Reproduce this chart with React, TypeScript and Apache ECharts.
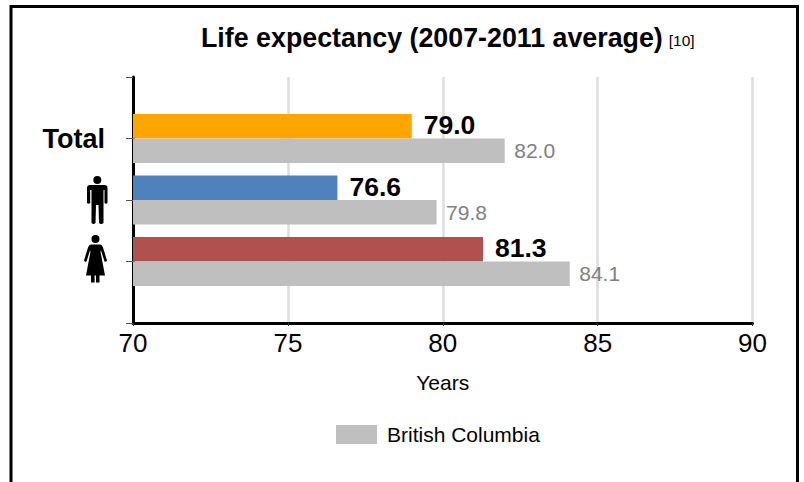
import React, { useEffect, useRef } from 'react'
import * as echarts from 'echarts'

const categories = ['', 'Total', 'Male', 'Female', '']
const regionValues = [null, 79.0, 76.6, 81.3, null]
const bcValues = [null, 82.0, 79.8, 84.1, null]
const regionColors = [null, '#FFA500', '#4F81BD', '#B1514F', null]
const xTicks = [70, 75, 80, 85, 90]

const FONT = '"Liberation Sans", Arial, sans-serif'

echarts.graphic.registerShape('manIcon', echarts.graphic.extendPath(
  'M6.3 4A4 4 0 1 1 14.3 4A4 4 0 1 1 6.3 4Z M3 9L17.5 9Q20.5 9 20.5 12L20.5 27Q19 28.5 17.5 27L17.5 14L16.5 14L16.5 47Q14 49 12 47L11.5 29L9 29L8.5 47Q6.5 49 4.5 47L4.5 14L3.2 14L3.2 27Q1.5 28.5 0 27L0 12Q0 9 3 9Z',
  {}
))
echarts.graphic.registerShape('womanIcon', echarts.graphic.extendPath(
  'M7.5 4.5A4 4 0 1 1 15.5 4.5A4 4 0 1 1 7.5 4.5Z M7 10L16 10Q18 10 19 13L23 26Q22 28 20.5 27L17 16L16.5 17L21 41L15.5 41L15.5 48L12 48L12 41L10.6 41L10.6 48L7 48L7 41L2 41L6.5 17L6 16L2.5 27Q1 28 0 26L4 13Q5 10 7 10Z',
  {}
))

const App = () => {
  const chartRef = useRef<HTMLDivElement>(null)

  useEffect(() => {
    if (!chartRef.current) return
    const chart = echarts.init(chartRef.current, null, { renderer: 'svg' })

    chart.setOption({
      animation: false,
      backgroundColor: '#fff',
      textStyle: { fontFamily: FONT },
      title: {
        left: 196,
        top: 19,
        text: '{main|Life expectancy (2007-2011 average)} {ref|[10]}',
        textStyle: {
          fontWeight: 'normal',
          rich: {
            main: { fontFamily: FONT, fontSize: 26.8, fontWeight: 'bold', color: '#000' },
            ref: { fontFamily: FONT, fontSize: 15.5, fontWeight: 'normal', color: '#000', padding: [5, 0, 0, 1] },
          },
        },
      },
      legend: {
        left: 331,
        top: 419,
        itemWidth: 41,
        itemHeight: 19,
        data: ['British Columbia'],
        icon: 'rect',
        textStyle: { fontFamily: FONT, fontSize: 21, color: '#000', padding: [0, 0, 0, 5] },
      },
      grid: { left: 133, right: 51.5, top: 77, bottom: 159 },
      xAxis: {
        type: 'value',
        min: 70,
        max: 90,
        interval: 5,
        name: 'Years',
        nameLocation: 'middle',
        nameGap: 49,
        nameTextStyle: { fontFamily: FONT, fontSize: 21, color: '#000' },
        axisLine: { show: true, lineStyle: { color: '#000', width: 3 } },
        axisTick: { show: true, length: 3, lineStyle: { color: '#333', width: 1 } },
        axisLabel: {
          fontFamily: FONT,
          fontSize: 26,
          color: '#000',
          margin: 7,
          formatter: (v: number) => (xTicks.includes(v) ? String(v) : ''),
        },
        splitLine: { show: true, lineStyle: { color: '#DDDDDD', width: 2.5 } },
      },
      yAxis: {
        type: 'category',
        data: categories,
        inverse: true,
        boundaryGap: false,
        axisLine: { show: true, lineStyle: { color: '#000', width: 3 } },
        axisTick: { show: true, length: 7, lineStyle: { color: '#555', width: 1 } },
        axisLabel: {
          interval: 0,
          margin: 28,
          fontFamily: FONT,
          fontSize: 27,
          fontWeight: 'bold',
          color: '#000',
          formatter: (v: string) => (v === 'Total' ? v : ''),
        },
        splitLine: { show: false },
      },
      series: [
        {
          name: 'Region',
          type: 'bar',
          barWidth: 24.5,
          barGap: 0,
          data: regionValues.map((v, i) => ({
            value: v,
            itemStyle: { color: regionColors[i] },
          })),
          label: {
            show: true,
            position: 'right',
            distance: 12,
            offset: [0, -1],
            fontFamily: FONT,
            fontSize: 26.5,
            fontWeight: 'bold',
            color: '#000',
            formatter: (p: any) => p.value.toFixed(1),
          },
        },
        {
          name: 'British Columbia',
          type: 'bar',
          barWidth: 24.5,
          barGap: 0,
          itemStyle: { color: '#BFBFBF' },
          data: bcValues,
          label: {
            show: true,
            position: 'right',
            distance: 9.5,
            fontFamily: FONT,
            fontSize: 21,
            color: '#808080',
            formatter: (p: any) => p.value.toFixed(1),
          },
        },
      ],
      graphic: [
        {
          type: 'rect',
          silent: true,
          z: 10,
          shape: { x: 11, y: 6.5, width: 786.5, height: 500 },
          style: { fill: 'none', stroke: '#000', lineWidth: 3 },
        },
        { type: 'manIcon', x: 87, y: 176, z: 10, style: { fill: '#000' } },
        { type: 'womanIcon', x: 84, y: 234.5, z: 10, style: { fill: '#000' } },
      ],
    })

    return () => {
      chart.dispose()
    }
  }, [])

  return <div ref={chartRef} style={{ position: 'absolute', left: 0, top: 0, width: 804, height: 482 }} />
}

export default App
